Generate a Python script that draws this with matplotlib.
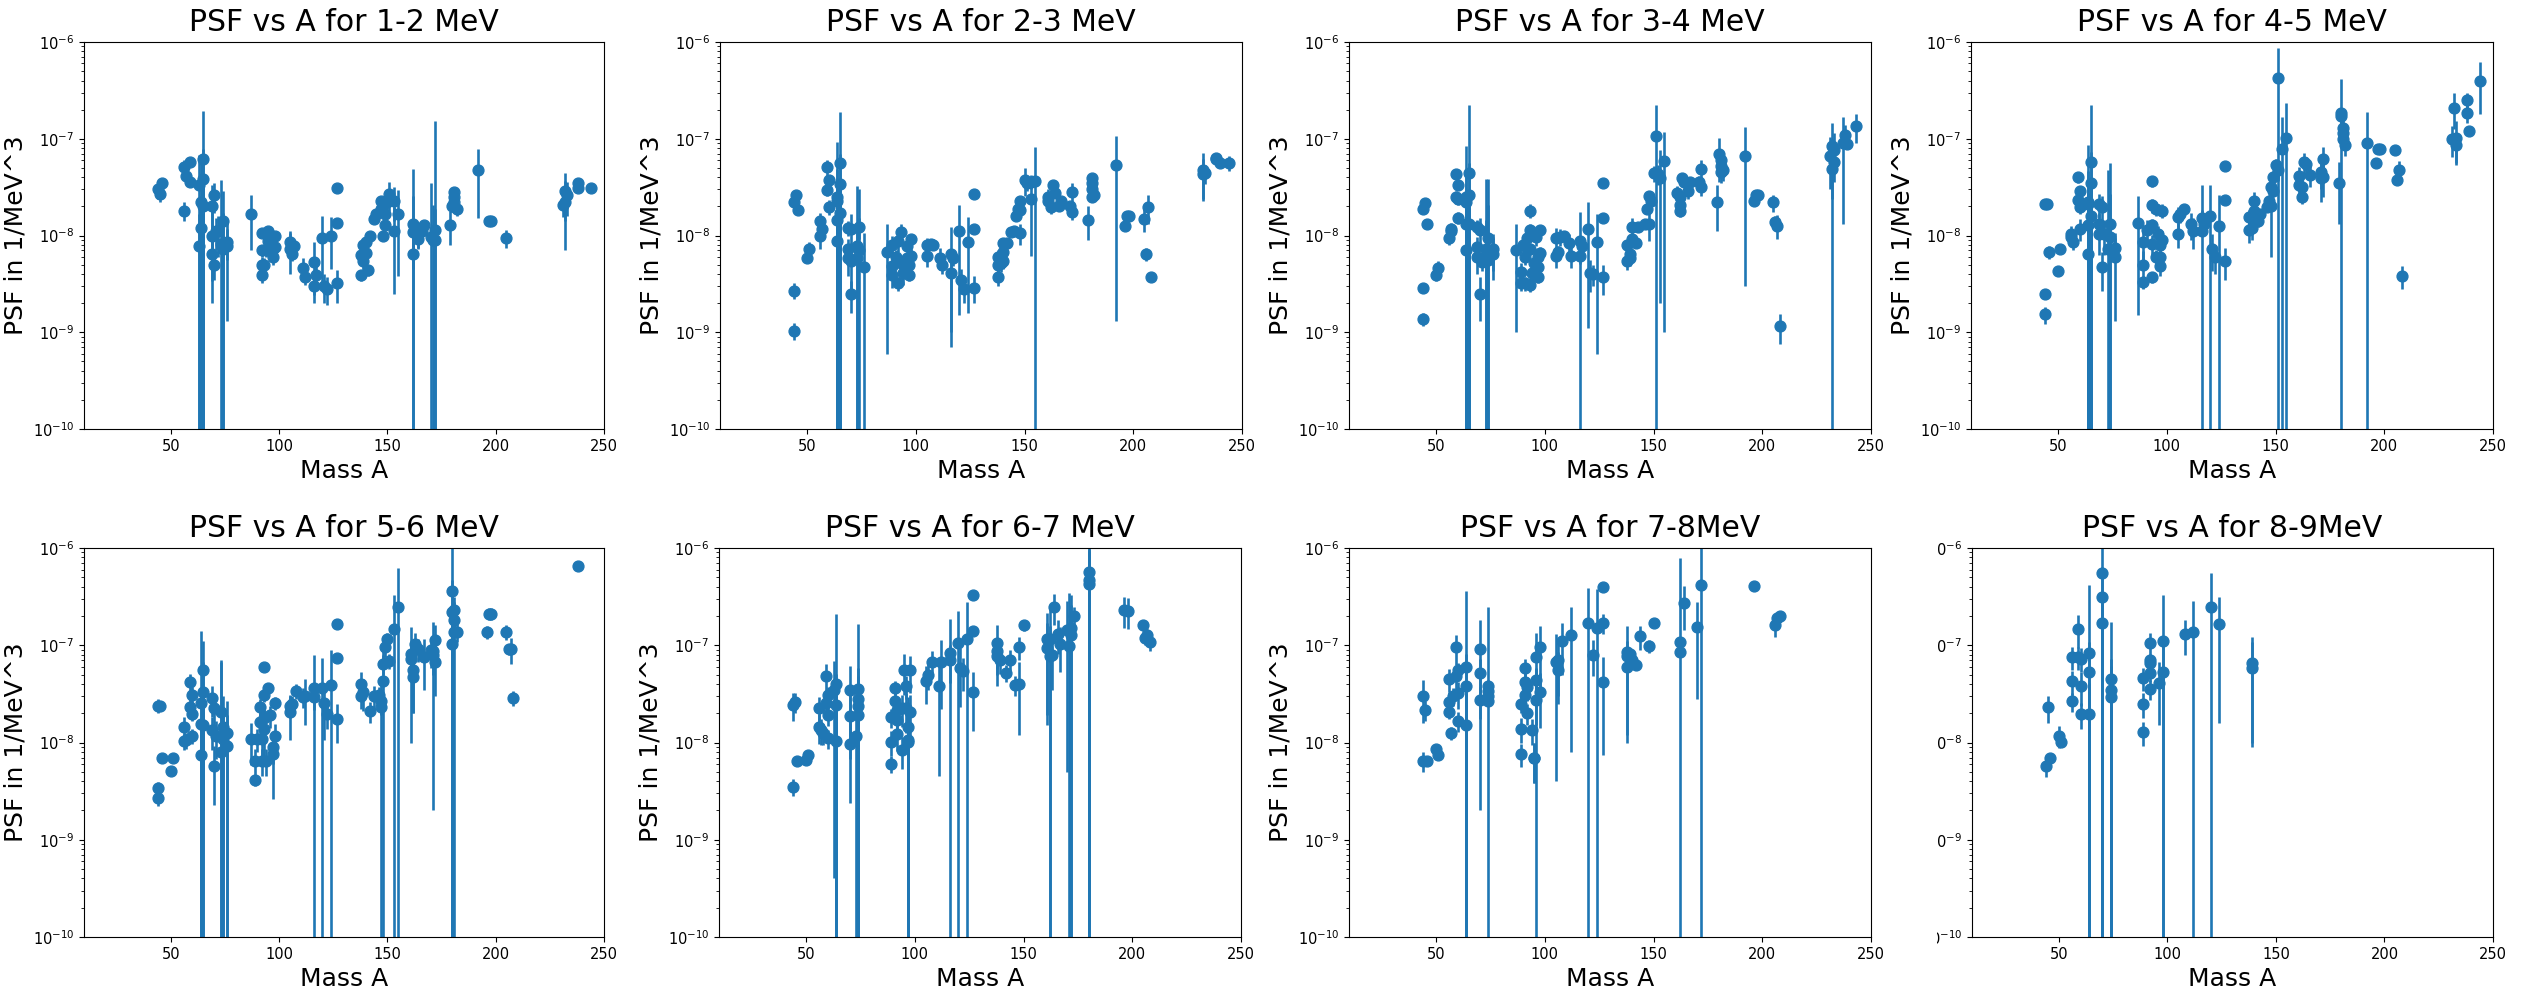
import matplotlib
matplotlib.use('Agg')
import matplotlib.pyplot as plt
from matplotlib.patches import Rectangle
import numpy as np

# all PSF values and errors below are in units of 1e-8 1/MeV^3
UNIT = 1e-8

titles = ['PSF vs A for 1-2 MeV', 'PSF vs A for 2-3 MeV', 'PSF vs A for 3-4 MeV', 'PSF vs A for 4-5 MeV',
          'PSF vs A for 5-6 MeV', 'PSF vs A for 6-7 MeV', 'PSF vs A for 7-8MeV', 'PSF vs A for 8-9MeV']

A_1 = [44, 45, 46, 56, 56, 57, 59, 59, 63, 64, 64, 63, 65, 65, 65, 69, 70, 69, 69, 70, 71, 72, 74, 73, 74, 76, 76, 87,
       92, 92, 92, 92, 93, 95, 94, 95, 97, 97, 98, 98, 105, 105, 106, 107, 111, 112, 116, 116, 117, 120, 121, 122, 124,
       127, 127, 127, 138, 138, 139, 139, 140, 140, 141, 142, 144, 145, 147, 147, 148, 149, 149, 151, 150, 153, 153, 155,
       162, 162, 162, 164, 164, 166, 167, 170, 171, 172, 172, 179, 181, 181, 181, 180, 182, 192, 197, 198, 205,
       231, 232, 232, 233, 238, 238, 244]
psf_1 = [3.0, 2.7, 3.5, 1.8, 5.1, 4.1, 3.6, 5.8, 3.3, 2.2, 1.2, .78, 6.2, 3.8, 2.0, 2.0, 2.6, 1.0, .64, .5, 1.1, 1.1, 1.4, .82, .72, .86, .78, 1.65,
         1.05, .7, .5, .39, .49, 1.12, .7, .88, .6, .72, .98, .76, .85, .73, .64, .78, .46, .37, .53, .3, .39, .95, .3, .28, 1.0,
         3.1, 1.34, .32, .39, .63, .79, .55, .66, .85, .44, 1.0, 1.48, 1.67, 1.9, 2.3, 1.0, 1.68, 1.27, 2.7, 2.2, 2.3, 1.1, 1.68,
         1.3, 1.08, .65, 1.04, .92, 1.12, 1.29, .96, .89, 1.15, .9, 1.29, 2.8, 2.5, 2.2, 2.03, 1.88, 4.7, 1.42, 1.42, .95,
         2.07, 2.2, 2.9, 2.6, 3.1, 3.5, 3.1]
err_1 = [.6, .5, .3, .4, .9, .5, .4, .6, 3.5, 4.2, 1.3, .9, 13, 4, 2.2, 1.3, .9, .8, .3, .15, .4, .5, 1.5, 2.9, 1.0, .3, .65, .95,
         .1, .1, .1, .07, .1, .1, .1, .1, .1, .1, .1, .1, .25, .33, .1, .1, .12, .06, .33, .06, .1, .65, .1, .09, .55,
         .1, .1, .12, .05, .1, .1, .1, .1, .1, .06, .05, .1, .1, .2, .2, .1, .1, .1, .9, .3, .9, .85, 1.3,
         3.6, 1.5, .2, .3, .2, .1, .1, 2.5, 1.2, 14, 1.0, .5, .3, .3, .3, .3, .3, 3.2, .05, .05, .2,
         .5, 1.5, 1.5, 1.0, .3, .3, .3]

A_2 = [44, 45, 44, 44, 46, 50, 51, 56, 56, 57, 59, 60, 59, 60, 64, 64, 64, 64, 65, 65, 65, 69, 70, 69, 69, 70, 70, 74, 73, 74, 73, 76, 87,
       89, 89, 89, 91, 92, 92, 93, 93, 94, 96, 96, 97, 97, 98, 98, 105, 105, 107, 108, 111, 112, 116, 116, 117, 120, 121, 122, 124,
       127, 127, 127, 138, 138, 138, 139, 140, 140, 140, 142, 144, 145, 146, 147, 148, 148, 148, 150, 151, 153, 153, 155,
       161, 161, 162, 163, 164, 166, 167, 171, 172, 172, 179, 181, 181, 181, 181, 182, 192, 196, 197, 198, 205, 206, 207, 208,
       232, 232, 233, 238, 238, 240, 244]
psf_2 = [2.2, 2.65, .27, .104, 1.83, .59, .73, 1.0, 1.42, 1.17, 5.1, 3.75, 2.95, 1.96, 2.3, 1.45, .88, 2.5, 5.6, 3.4, 1.7, 1.2, 1.18, .73, .58, .54, .25, 1.23, .77, .71, .58, .47, .68,
         .8, .48, .39, .6, .32, .87, 1.08, .52, .41, .77, .58, .39, .5, .92, .62, .8, .62, .82, .79, .59, .5, .65, .41, .58, 1.1, .35, .28, .86,
         2.7, 1.18, .29, .37, .6, .5, .52, .68, .55, .83, .83, 1.08, 1.1, 1.6, 1.87, 2.27, 1.84, 1.05, 3.75, 3.45, 2.37, 3.6, 3.65,
         2.5, 2.3, 1.96, 3.3, 2.75, 2.0, 2.25, 2.0, 1.75, 2.8, 1.45, 3.9, 3.45, 3.05, 2.5, 2.6, 5.4, 1.25, 1.6, 1.6, 1.48, .64, 1.96, .37,
         4.3, 4.7, 4.4, 6.2, 6.3, 5.6, 5.6]
err_2 = [.2, .2, .05, .02, .1, .05, .12, .28, .3, .2, 1.0, .5, .4, .35, 2.6, 1.6, 1.0, 6.7, 13.5, 3.6, 2.0, .2, .5, .2, .2, .3, .09, .3, 2.5, 2.3, .7, .6, .62,
         .2, .1, .1, .1, .05, .2, .25, .1, .1, .1, .1, .05, .1, .1, .1, .15, .15, .1, .05, .15, .1, .58, .31, .1, .95, .1, .08, .7,
         .1, .1, .09, .07, .1, .1, .1, .1, .1, .1, .05, .05, .1, .1, .15, .2, .3, .25, 1.2, .6, 1.75, .6, 4.5,
         .5, .4, .3, .3, .3, .2, .2, .2, .3, .7, .55, .3, .3, .3, .3, .3, 5.27, .1, .05, .05, .4, .1, .65, .03,
         1.9, 2.4, 1.0, .4, .4, .4, 1.0]

A_3 = [44, 45, 44, 44, 46, 50, 51, 56, 57, 57, 59, 60, 59, 60, 60, 64, 64, 64, 64, 65, 65, 65, 69, 69, 69, 70, 70, 71, 73, 74, 74, 73, 76, 76, 87,
       89, 89, 90, 91, 91, 92, 93, 93, 93, 93, 94, 95, 96, 97, 97, 97, 98, 98, 105, 105, 106, 107, 109, 111, 112, 116, 116, 117, 120, 121, 122, 124,
       127, 127, 127, 138, 138, 139, 139, 140, 140, 142, 143, 146, 147, 148, 149, 148, 150, 151, 152, 153, 155,
       161, 162, 162, 162, 163, 164, 166, 167, 171, 172, 172, 179, 180, 181, 181, 181, 182, 192, 196, 197, 198, 205, 206, 207, 208,
       231, 232, 232, 233, 233, 237, 238, 239, 243]
psf_3 = [1.9, 2.15, .285, .137, 1.33, .39, .46, .95, 1.1, 1.16, 4.3, 3.35, 2.5, 2.37, 1.53, 2.2, 1.3, .7, 2.5, 4.4, 2.65, 1.3, 1.23, .6, .76, 1.13, .25, .53, .63, .95, .56, .73, .73, .65, .7,
         .32, .42, .8, .32, .6, .95, 1.8, 1.13, .73, .31, .41, .52, .97, .37, .47, .6, 1.13, .66, .95, .61, .67, .97, 1.0, .83, .61, .88, .61, .78, 1.16, .41, .4, .86,
         3.5, 1.53, .37, .54, .8, .65, .58, 1.22, .93, .84, 1.23, 1.33, 1.9, 2.55, 2.3, 1.33, 4.4, 10.8, 4.35, 3.9, 5.9,
         2.75, 2.5, 2.05, 1.8, 3.95, 3.6, 2.88, 3.6, 3.55, 4.9, 3.15, 2.2, 6.9, 6.0, 5.2, 4.5, 4.7, 6.7, 2.3, 2.65, 2.65, 2.2, 1.38, 1.26, .115,
         6.7, 8.4, 4.9, 5.8, 7.6, 9.1, 11, 8.9, 13.5]
err_3 = [.2, .2, .03, .02, .1, .05, .08, .15, .15, .2, .4, .4, .4, .3, .2, 2.5, 1.5, .9, 6, 18, 3, 1.5, .2, .2, .2, .4, .12, .1, .8, 1.1, 3.3, 3.1, .3, .3, .6,
         .05, .1, .2, .05, .1, .2, .3, .2, .1, .05, .1, .1, .2, .05, .1, .1, .1, .1, .25, .15, .1, .2, .1, .2, .15, .87, .1, .1, 1.05, .15, .1, .8,
         .15, .1, .13, .1, .1, .1, .1, .3, .1, .1, .1, .1, .2, .3, .3, .45, .8, 11.5, 1.0, 3.7, 5.8,
         .5, .4, .3, .25, .5, .4, .5, .4, .6, 1.1, .6, 1.1, 3.3, 1.5, 1.0, 1.0, 1.0, 6.4, .2, .2, .2, .45, .2, .35, .04,
         3.7, 6, 5.0, 1.0, 4, 7.8, 3, 1.0, 4.5]

A_4 = [44, 45, 44, 44, 46, 50, 51, 56, 57, 56, 59, 60, 59, 60, 60, 64, 64, 64, 64, 65, 65, 65, 69, 70, 69, 69, 70, 71, 74, 73, 74, 76, 76, 87,
       89, 89, 89, 91, 93, 93, 93, 93, 93, 95, 95, 96, 97, 97, 97, 98, 98, 105, 105, 106, 108, 111, 112, 116, 116, 117, 120, 121, 122, 124,
       127, 127, 127, 138, 138, 139, 140, 140, 142, 143, 146, 147, 148, 149, 148, 149, 150, 151, 151, 153, 155,
       161, 161, 162, 162, 163, 164, 166, 171, 172, 172, 171, 179, 180, 180, 181, 181, 181, 182, 192, 196, 197, 198, 205, 206, 207, 208,
       231, 232, 233, 233, 238, 238, 239, 244]
psf_4 = [2.1, 2.1, .25, .153, .67, .43, .73, .96, .85, 1.04, 4, 2.87, 2.35, 1.96, 1.17, 2.1, 1.27, .64, 2.2, 5.7, 3.45, 1.6, 2.1, 1.96, 1.3, 1.03, .47, 1.03, 1.3, .73, .96, .74, .6, 1.35,
         .33, .49, .85, 1.13, 3.65, 2.05, 1.27, .82, .37, .6, 1.9, 1.04, .8, .6, .48, 1.8, .9, 1.55, 1.04, 1.66, 1.9, 1.3, 1.12, 1.52, 1.12, 1.33, 1.6, .73, .6, 1.25,
         5.2, 2.35, .55, 1.13, 1.55, 1.2, 2.3, 1.8, 1.42, 1.67, 1.95, 2.3, 3.15, 2.9, 2.0, 4, 5.35, 42, 4.7, 7.9, 10.2,
         4.1, 3.3, 3.2, 2.5, 5.7, 5.5, 4.2, 4.5, 6.2, 4, 3.9, 3.5, 18.5, 17, 13, 11.5, 10, 8.6, 9, 5.6, 7.9, 7.9, 7.7, 3.75, 4.7, .38,
         10, 21, 10.3, 8.6, 25, 18.5, 12, 40]
err_4 = [.2, .2, .03, .03, .1, .05, .05, .15, .15, .2, .5, .4, .4, .3, .3, 2.5, 1.5, .9, 6.5, 16.5, 3.8, 1.8, .6, .6, .4, .4, .2, .4, 1.4, 4, 4.6, .2, .47, 1.2,
         .05, .2, .3, .3, .45, .35, .2, .2, .05, .1, .3, .2, .15, .1, .1, .3, .2, .4, .3, .3, .1, .4, .4, .3, 2.2, .2, 1.7, .3, .2, 1.4,
         .3, .2, .2, .3, .3, .3, .5, .4, .2, .2, .2, .3, .5, .4, 1.4, .6, .8, 45, 1.0, 9, 13,
         1.0, 1.0, .8, .4, 1.5, 1.0, 1, 1.5, 2, 1.5, 1.7, 2.2, 23, 3.0, 3, 2.5, 2, 2, 10, .3, .5, .5, .6, .3, 1.2, .1,
         3.5, 8.5, 5, 3, 5, 4, 1, 22]

A_5 = [44, 45, 44, 44, 46, 50, 51, 56, 56, 57, 59, 60, 59, 60, 60, 64, 64, 64, 65, 65, 65, 69, 69, 70, 70, 71, 73, 73, 74, 74, 76, 76,
       87, 89, 89, 90, 91, 91, 92, 92, 93, 93, 93, 93, 94, 95, 96, 97, 97, 98, 98, 105, 105, 106, 108, 111, 112, 116, 116, 120, 121, 122, 124,
       127, 127, 127, 138, 138, 139, 142, 144, 146, 147, 147, 148, 148, 149, 150, 151, 153, 155,
       161, 161, 162, 162, 163, 164, 167, 170, 171, 172, 172, 171, 180, 180, 181, 181, 181, 180, 182, 196, 197, 198, 205, 206, 207, 208, 238]
psf_5 = [2.4, 2.4, .34, .27, .69, .51, .69, 1.03, 1.44, 1.05, 4.2, 3.1, 2.3, 1.98, 1.17, 2.55, 1.55, .75, 1.5, 3.3, 5.6, 2.85, 1.33, 2.25, .58, 1.18, 2.05, .8, 1.44, 1.09, 1.26, .92,
         1.09, .41, .65, 1.09, 2.3, 1.62, .65, 1.09, 6, 3.1, 1.8, 1.38, .65, 3.65, 1.9, .9, .76, 2.55, 1.16, 2.4, 2.05, 2.5, 3.4, 2.95, 3, 3.6, 2.95, 3.65, 2.55, 1.97, 3.87,
         16.7, 7.4, 1.73, 3, 4, 3.3, 2.1, 3, 3.05, 2.7, 2.3, 4.3, 6.4, 9.6, 11.5, 6.9, 14.8, 25,
         8.2, 7.3, 5.5, 4.7, 10.3, 9.2, 7.5, 8.9, 7.9, 11.3, 6.7, 8.8, 36, 22, 23, 18, 13.7, 10.3, 13.7, 13.7, 21, 21, 13.7, 9.1, 9.2, 2.85, 66]
err_5 = [.4, .3, .05, .05, .05, .05, .05, .2, .4, .2, .9, .6, .5, .3, .2, 11.5, 1.7, .9, 1.7, 3.5, 5.4, 1.0, .5, .8, .35, .5, 5, 6, 1.6, 1.2, 1.4, 1.0,
         .5, .05, .2, .3, .5, .5, .2, .4, .3, .5, .6, .8, .2, .4, .5, .3, .5, .4, .4, .6, 1, .5, .6, .7, 1.5, 4.4, .8, 3.8, 1.5, .6, 5,
         .8, .7, .75, .8, 1.3, 1.2, .5, .8, .7, .8, 2.4, 4.5, 1.5, 2, 2, 1.2, 18, 38,
         7.2, 3, 3.5, 2.7, 3, 2.5, 4, 3, 3, 5, 3.7, 8.6, 70, 25, 8, 6, 14, 12, 3, 2, 3, 3, 2.5, 1.2, 2.8, .5, .5]

A_6 = [44, 45, 44, 46, 50, 51, 56, 56, 57, 58, 59, 60, 59, 60, 60, 63, 64, 64, 64, 70, 70, 70, 74, 74, 74, 74, 73,
       89, 89, 89, 91, 91, 92, 92, 92, 94, 94, 95, 96, 96, 97, 97, 97, 98, 98, 105, 106, 108, 111, 112, 116, 116, 120, 121, 122, 124,
       127, 127, 127, 138, 138, 138, 139, 142, 144, 146, 148, 148, 150,
       161, 161, 162, 162, 164, 163, 166, 167, 170, 171, 172, 172, 173, 180, 180, 180, 196, 198, 205, 206, 207, 208]
psf_6 = [2.45, 2.6, .35, .64, .66, .75, 2.25, 1.46, 1.35, 1.25, 4.8, 3.1, 2.55, 1.93, 1.1, 3.5, 3.95, 2.45, 1.03, 3.5, 1.88, .97, 3.55, 2.8, 2.35, 1.93, 1.18,
         1.82, 1.02, .6, 3.65, 2.65, 2.15, 1.7, 1.22, 2.25, .84, 5.6, 2.25, 3.8, 1.46, 1.02, 1.07, 5.5, 2.08, 4.3, 5, 6.8, 3.85, 6.7, 8.3, 7.1, 10.5, 5.8, 5.4, 11.6,
         32.5, 14, 3.3, 10.5, 8.7, 7.7, 7.1, 5.2, 7.1, 3.9, 9.6, 4, 16,
         11.5, 9.4, 11.5, 7.8, 25, 8, 13.2, 10.3, 14.5, 9.8, 15, 12.8, 20, 57, 47, 43, 23, 22.6, 16, 12, 12.6, 10.8]
err_6 = [.8, .6, .07, .05, .05, .05, .7, .5, .4, .3, 1.6, .6, .7, .45, .25, 3.46, 17, 2.6, 2, 2.6, 1.2, .73, 13, 3, 2.5, 2.1, 1.3,
         .4, .3, .12, .6, 1, .5, .5, .4, .8, .3, 2.5, 1, 1, 1.5, 1.1, 1.2, 2.3, 1, 1.8, 1.5, 2, 3.4, 4.5, 10.5, 3, 12, 3.5, 2, 16,
         1.5, 1, 2, 5.5, 3, 3.9, 2, 1, 1.8, .9, 2.5, 2.8, 2,
         10, 7.5, 12, 8, 9, 4.5, 5, 5, 14, 25, 18, 13, 5, 70, 50, 50, 8, 8, 2, 2, 2, 2]

A_7 = [44, 45, 44, 46, 50, 51, 56, 56, 56, 57, 58, 59, 59, 60, 60, 60, 64, 64, 64, 70, 70, 70, 74, 74, 74, 74,
       89, 89, 89, 91, 91, 91, 92, 92, 94, 95, 95, 96, 96, 96, 98, 98, 105, 106, 106, 108, 112, 120, 122, 124,
       127, 127, 127, 138, 138, 138, 139, 140, 142, 144, 148, 150,
       162, 162, 164, 170, 172, 196, 206, 208, 207]
psf_7 = [3, 2.15, .65, .64, .86, .75, 4.5, 2.6, 2.05, 1.25, 3, 9.5, 4.8, 5.6, 3.2, 1.67, 6, 3.85, 1.5, 9.2, 5.2, 2.75, 3.85, 3.35, 3, 2.65,
         2.5, 1.38, .76, 5.8, 4.2, 3.05, 2, 3.7, 1.35, .69, .69, 7.5, 4.4, 2.75, 9.6, 3.3, 6.7, 5.5, 7, 11, 12.8, 17, 8, 15,
         40, 17, 4.15, 6, 7.7, 8.5, 8.1, 7.1, 6.3, 12.4, 9.9, 17,
         10.9, 8.5, 27.5, 15.3, 42, 41, 16.3, 20, 19]
err_7 = [1.4, .5, .15, .05, .05, .05, 1.2, .7, .3, .2, .6, 3.2, 1.2, 1, 1, .4, 30, 4.2, 1.7, 9, 2, 1, .5, .5, .5, 22,
         .5, .4, .2, 1.5, 1, 1, .5, 1, .4, .31, .31, 6, 1.5, 3, 6, 1.9, 6.3, 3, 4, 6, 12, 22, 3.2, 23,
         1, 4, 3.4, 5, 2, 7.3, 1, 1, .8, 3.5, 1.5, 1.5,
         1, 70, 13, 12.5, 70, 1, 4, 2, 1]

A_8 = [44, 46, 45, 50, 51, 56, 56, 56, 59, 59, 60, 60, 60, 64, 64, 64, 70, 70, 70, 74, 74, 74,
       89, 89, 89, 92, 92, 92, 92, 92, 96, 98, 98, 108, 112, 120, 124, 139, 139]
psf_8 = [.58, .7, 2.3, 1.18, 1.01, 7.6, 4.25, 2.65, 14.8, 7.6, 7.3, 3.85, 1.97, 8.4, 5.3, 1.97, 55, 31.5, 17, 4.5, 3.5, 2.95,
         4.6, 2.5, 1.28, 10.5, 7.1, 6.6, 5.2, 3.55, 4.1, 11, 5.3, 13, 13.7, 25, 16.6, 6.6, 5.9]
err_8 = [.14, .05, .7, .3, .12, 2.1, 1.2, .6, 5.5, 2, 2, 1.5, .6, 33, 5.5, 2.1, 60, 33, 18, 13, 3.7, 3.2,
         1.2, .7, .35, 3, 1, 1, 1, .8, 2.6, 22, 5.5, 5, 14.5, 30, 15, 5.7, 4.9]

masses = [A_1, A_2, A_3, A_4, A_5, A_6, A_7, A_8]
psfs = [psf_1, psf_2, psf_3, psf_4, psf_5, psf_6, psf_7, psf_8]
errs = [err_1, err_2, err_3, err_4, err_5, err_6, err_7, err_8]

W, H = 2526, 989
fig = plt.figure(figsize=(W / 100, H / 100), dpi=100)

# axes boxes in pixels: left, right, top, bottom
boxes = [(84, 604, 42, 429), (720, 1242, 42, 429), (1349, 1871, 42, 429), (1971, 2493, 42, 429),
         (84, 604, 548, 937), (719, 1241, 548, 937), (1349, 1871, 548, 937), (1972, 2493, 548, 937)]

for i in range(8):
    l, r, t, b = boxes[i]
    ax = fig.add_axes([l / W, 1 - b / H, (r - l) / W, (b - t) / H])
    ax.errorbar(masses[i], np.array(psfs[i]) * UNIT, yerr=np.array(errs[i]) * UNIT,
                fmt='o', markersize=7.8, elinewidth=1.9, color='#1f77b4')
    ax.set_yscale('log')
    ax.set_xlim(10, 250)
    ax.set_ylim(1e-10, 1e-6)
    ax.set_yticks([1e-10, 1e-9, 1e-8, 1e-7, 1e-6])
    ax.set_title(titles[i], fontsize=21.5, pad=8)
    ax.set_xlabel('Mass A', fontsize=18)
    if i != 7:
        ax.set_ylabel('PSF in 1/MeV^3', fontsize=18)
    ax.tick_params(labelsize=10.5)

# the last panel has the left edge of its tick labels cut off
fig.add_artist(Rectangle((1888 / W, 0), 49 / W, 1 - 495 / H, transform=fig.transFigure,
                         facecolor='white', edgecolor='none', zorder=10))

fig.savefig('out.png', dpi=100)
